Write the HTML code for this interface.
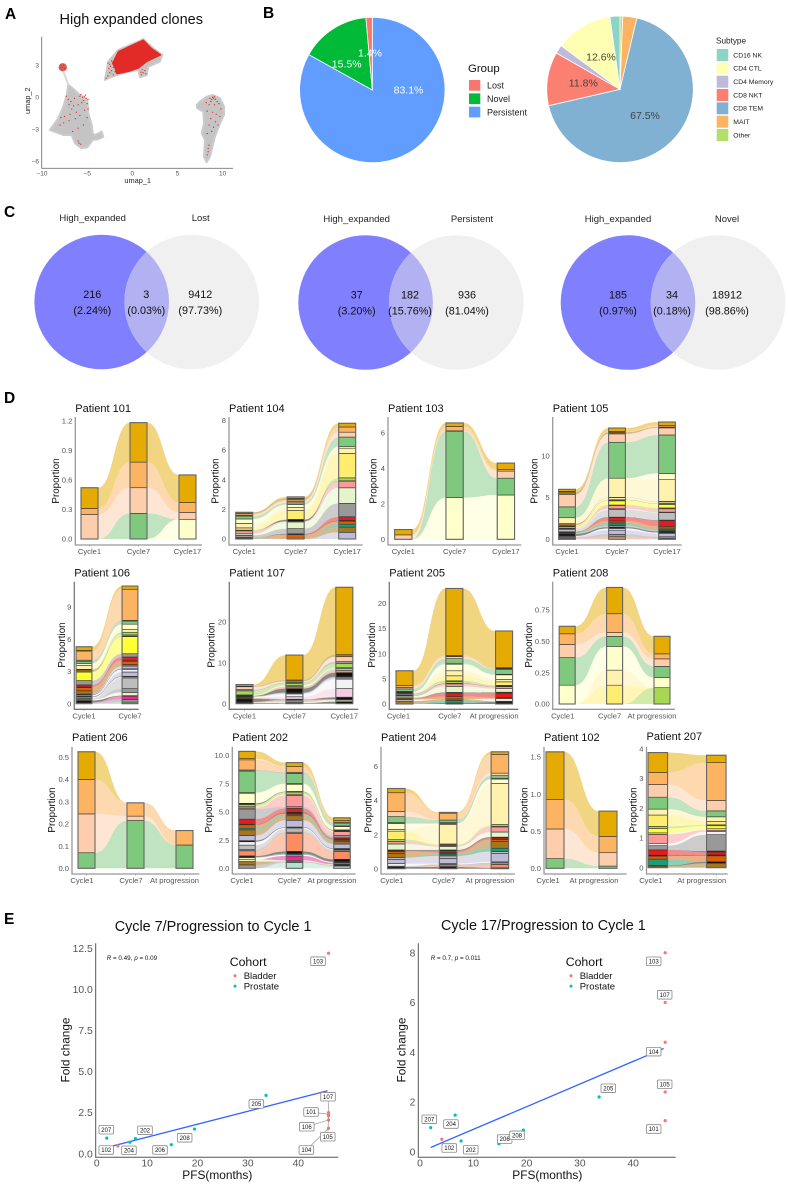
<!DOCTYPE html>
<html lang="en">
<head>
<meta charset="utf-8">
<title>High expanded clones figure</title>
<style>
html,body{margin:0;padding:0;background:#fff;width:788px;height:1185px;overflow:hidden}
svg{display:block;filter:blur(0.3px)}
text{font-family:"Liberation Sans",sans-serif}
.letter{font-size:15.5px;font-weight:bold;fill:#000}
.v{font-size:10.8px;fill:#111;text-anchor:middle}
.vh{font-size:9.5px;fill:#222;text-anchor:middle}
.leg{font-size:9px;fill:#222}
.leg2{font-size:6.8px;fill:#222}
.pl{font-size:10.5px;text-anchor:middle;dominant-baseline:central}
</style>
</head>
<body>
<svg id="fig" xmlns="http://www.w3.org/2000/svg" width="788" height="1185" viewBox="0 0 788 1185">
<rect x="0" y="0" width="788" height="1185" fill="#fff"/>
<defs>
<clipPath id="v1c"><circle cx="101.7" cy="302" r="67.3"/></clipPath>
<clipPath id="v2c"><circle cx="365.6" cy="302.5" r="67.3"/></clipPath>
<clipPath id="v3c"><circle cx="628" cy="302.5" r="67.3"/></clipPath>
</defs>
<text class="letter" x="5" y="19">A</text>
<text class="letter" x="263" y="18">B</text>
<text class="letter" x="4" y="217">C</text>
<text class="letter" x="4" y="403">D</text>
<text class="letter" x="4" y="924">E</text>
<text x="59.5" y="24" font-size="14.5" fill="#111">High expanded clones</text>
<g id="umap"></g>
<g id="pies"></g>
<g>
<text x="468" y="72" font-size="11.4" fill="#111">Group</text>
<rect x="469" y="80" width="11.3" height="10.7" fill="#F8766D"/>
<rect x="469" y="93.4" width="11.3" height="10.7" fill="#00BA38"/>
<rect x="469" y="106.7" width="11.3" height="10.7" fill="#619CFF"/>
<text class="leg" x="487" y="88.6">Lost</text>
<text class="leg" x="487" y="102">Novel</text>
<text class="leg" x="487" y="115.3">Persistent</text>
</g>
<g>
<text x="716" y="43.5" font-size="8.2" fill="#222">Subtype</text>
<rect x="716.7" y="49" width="11.6" height="12" fill="#8DD3C7"/>
<rect x="716.7" y="62.3" width="11.6" height="12" fill="#FFFFB3"/>
<rect x="716.7" y="75.7" width="11.6" height="12" fill="#BEBADA"/>
<rect x="716.7" y="89" width="11.6" height="12" fill="#FB8072"/>
<rect x="716.7" y="102.3" width="11.6" height="12" fill="#80B1D3"/>
<rect x="716.7" y="115.7" width="11.6" height="12" fill="#FDB462"/>
<rect x="716.7" y="129" width="11.6" height="12" fill="#B3DE69"/>
<text class="leg2" x="733.3" y="57.4">CD16 NK</text>
<text class="leg2" x="733.3" y="70.7">CD4 CTL</text>
<text class="leg2" x="733.3" y="84.1">CD4 Memory</text>
<text class="leg2" x="733.3" y="97.4">CD8 NKT</text>
<text class="leg2" x="733.3" y="110.7">CD8 TEM</text>
<text class="leg2" x="733.3" y="124.1">MAIT</text>
<text class="leg2" x="733.3" y="137.4">Other</text>
</g>
<g>
<circle cx="101.7" cy="302" r="67.3" fill="#8080FF"/>
<circle cx="191.7" cy="302" r="67.3" fill="#F0F0F0"/>
<circle cx="191.7" cy="302" r="67.3" fill="#B2B2F2" clip-path="url(#v1c)"/>
<text class="vh" x="92.7" y="221">High_expanded</text>
<text class="vh" x="200.7" y="221">Lost</text>
<text class="v" x="92.3" y="298">216</text>
<text class="v" x="92.3" y="314">(2.24%)</text>
<text class="v" x="146.3" y="298">3</text>
<text class="v" x="146.3" y="314">(0.03%)</text>
<text class="v" x="200.3" y="298">9412</text>
<text class="v" x="200.3" y="314">(97.73%)</text>
</g>
<g>
<circle cx="365.6" cy="302.5" r="67.3" fill="#8080FF"/>
<circle cx="456.3" cy="302.5" r="67.3" fill="#F0F0F0"/>
<circle cx="456.3" cy="302.5" r="67.3" fill="#B2B2F2" clip-path="url(#v2c)"/>
<text class="vh" x="356.7" y="222">High_expanded</text>
<text class="vh" x="472" y="222">Persistent</text>
<text class="v" x="356.7" y="298.5">37</text>
<text class="v" x="356.7" y="314.5">(3.20%)</text>
<text class="v" x="410" y="298.5">182</text>
<text class="v" x="410" y="314.5">(15.76%)</text>
<text class="v" x="467" y="298.5">936</text>
<text class="v" x="467" y="314.5">(81.04%)</text>
</g>
<g>
<circle cx="628" cy="302.5" r="67.3" fill="#8080FF"/>
<circle cx="718" cy="302.5" r="67.3" fill="#F0F0F0"/>
<circle cx="718" cy="302.5" r="67.3" fill="#B2B2F2" clip-path="url(#v3c)"/>
<text class="vh" x="618" y="222">High_expanded</text>
<text class="vh" x="727" y="222">Novel</text>
<text class="v" x="618" y="298.5">185</text>
<text class="v" x="618" y="314.5">(0.97%)</text>
<text class="v" x="672" y="298.5">34</text>
<text class="v" x="672" y="314.5">(0.18%)</text>
<text class="v" x="727" y="298.5">18912</text>
<text class="v" x="727" y="314.5">(98.86%)</text>
</g>
<g id="alluvials"></g>
<g id="scatters"></g>
</svg>
<script>
/* ---------- Panel A: UMAP values (umap units) ---------- */
const umapXTicks = ['−10', '−5', '0', '5', '10'];
const umapYTicks = ['−6', '−3', '0', '3'];
const umapGreyLeft = [[-7.09,1.16],[-6.72,.94],[-5.8,.22],[-4.98,-.25],[-4.87,-1.5],[-4.5,-2.59],[-4.39,-3.38],[-4.13,-3.53],[-3.4,-3.22],[-3.21,-3.69],[-3.77,-3.94],[-4.39,-4],[-4.98,-4.69],[-5.61,-4.78],[-6.35,-4.31],[-6.72,-3.53],[-7.64,-3.53],[-9.12,-3.06],[-8.19,-1.97],[-7.64,-.88],[-7.27,.22]];
const umapGreyTop = [[-3.03,1.63],[-2.66,3.34],[-1.55,4.44],[1.22,5.44],[2.33,4.59],[3.32,3.97],[3.06,3.34],[1.77,2.88],[1.59,2.09],[.85,1.88],[.66,2.56],[-.44,2.41],[-1.73,2.09],[-2.66,1.78]];
const umapGreyRight = [[7.12,-.72],[7.49,-.41],[8.23,.06],[8.97,.22],[9.71,-.09],[10.15,-.88],[10.15,-1.66],[9.71,-2.44],[9.15,-3.69],[8.6,-5.56],[8.23,-6.09],[7.94,-5.56],[8.05,-4],[7.68,-3.38],[7.94,-2.44],[7.86,-1.34],[7.2,-1.03]];
const umapRedTop = [[-1.92,2.72],[-2.2,3.2],[-1.9,3.7],[-1.55,4.3],[1.22,5.38],[2.14,4.59],[3.17,3.97],[1.59,3.34],[.66,2.72],[-.44,2.41],[-1.73,2.19]];
const umapRedDots = [[-7.1,-.2],[-6.8,-.4],[-6.4,-.1],[-5.8,.1],[-5.5,0],[-5.4,-.3],[-5.2,.2],[-5.6,-.5],[-5,-.6],[-6,-.7],[-6.5,-.8],[-7,-.7],[-4.9,-1.1],[-5.3,-1.2],[-6.2,-1.4],[-7.5,-1.8],[-7.9,-1.9],[-7,-2.2],[-6.3,-2],[-5.4,-2.6],[-6,-2.9],[-7.6,-2.4],[-5.9,-4.3],[-5.7,-4.4],[-6,-4.1],[-4.9,-.2],[-5.1,-.1],[-5.3,.05],[-5.7,.25],[-7.3,.1],[-6.7,-1.1],[-5.8,-1.7],[-6.9,-1.6],[-5,-1.9],[-8,-2.6],[-6.6,-3.2],
[8.6,-.1],[8.8,-.2],[9,-.1],[9.2,-.2],[8.9,0],[9.1,.05],[8.7,-.4],[9.4,-.4],[8.2,-.5],[8.5,-.7],[9.1,-.7],[9.6,-.6],[9.8,-1.1],[8.3,-1.3],[8.9,-1.4],[9.3,-1.6],[9.7,-1.8],[8.7,-2],[9.2,-2.3],[8.5,-2.6],[9,-2.8],[8.8,-3.2],[8.3,-3.4],[8.4,-4.8],[8.4,-5.1],[8.3,-5.4],[8.5,-4.5],[9.5,-2.6],
[-2.9,1.8],[-2.7,2],[-2.5,2.3],[-2.6,2.7],[-2.3,2.5],[-2.1,2.1],[-1.9,2.4],[-2.5,3.1],[-2.7,3.2],[-2.3,3.4],[-2.1,2.8],[-2.4,2.9],[1,2.1],[1.2,2.3],[1.4,2.5],[1.1,2.6],[1.5,2.2],[.95,2.35],[-7.9,3],[-7.7,2.8],[-7.5,2.7],[-8,2.8],[-7.8,2.6],[-7.6,3]];

/* ---------- Panel B: pie shares ---------- */
const groupLabels = ['Persistent', 'Novel', 'Lost'];
const groupShares = [83.1, 15.5, 1.4];
const subtypeLabels = ['Other', 'MAIT', 'CD8 TEM', 'CD8 NKT', 'CD4 Memory', 'CD4 CTL', 'CD16 NK'];
const subtypeShares = [.6, 3.1, 67.5, 11.8, 1.9, 12.6, 2.2];

/* ---------- Panel D: clone proportions, bottom-up, one value per timepoint ---------- */
const p101Cats = ['Cycle1', 'Cycle7', 'Cycle17'];
const p101Ticks = ['0.0', '0.3', '0.6', '0.9', '1.2'];
const p101Bands = [['E',0,0,.2],['D',0,.26,0],['C',.25,.26,.07],['B',.06,.26,.1],['A',.21,.4,.28]];

const p104Cats = ['Cycle1', 'Cycle7', 'Cycle17'];
const p104Ticks = ['0', '2', '4', '6', '8'];
const p104Bands = [['R',0,0,.45],['P',.05,0,.35],['Q',.05,0,.2],['O',0,.3,.2],['V',0,.05,.05],['N',0,0,.25],['L',.15,.35,.9],['K',.1,.45,1.05],['J',.2,.05,.45],['V',0,.1,.02],['I',.05,.02,.2],['G',.15,.6,1.65],['F',.3,.2,.35],['E',.3,.2,.1],['D',.2,.12,.65],['C',.05,.1,.33],['B',.1,.1,.35],['P',.1,.1,0],['A',0,.1,.25]];

const p103Cats = ['Cycle1', 'Cycle7', 'Cycle17'];
const p103Ticks = ['0', '2', '4', '6'];
const p103Bands = [['E',0,2.35,2.5],['D',0,3.75,.95],['C',.25,.02,.4],['B',0,.25,.1],['A',.3,.2,.35]];

const p105Cats = ['Cycle1', 'Cycle7', 'Cycle17'];
const p105Ticks = ['0', '5', '10'];
const p105Bands = [['S',.1,.3,.1],['L',.1,.3,.2],['R',.15,.5,.4],['Z',.05,.2,.1],['V',.25,.15,.15],['L',.1,.2,.1],['Q',.05,.2,.1],['P',.05,.2,.2],['O',0,.15,.2],['N',0,.4,.7],['V',.05,.05,.05],['M',.3,.9,.9],['K',.05,.1,.05],['J',.05,.4,.4],['I',.05,.05,.1],['H',.15,.5,.4],['G',.05,.1,.1],['V',.03,.03,.03],['F',.1,.25,.2],['P',.2,.03,.05],['F',.7,2.3,2.6],['E',0,0,.75],['D',1.3,4.3,4.6],['C',1.5,1,.85],['P',.3,.2,.1],['B',.05,.1,.2],['A',.25,.4,.4]];

const p106Cats = ['Cycle1', 'Cycle7'];
const p106Ticks = ['0', '3', '6', '9'];
const p106Bands = [['D',0,.15],['L',.1,.25],['T',0,.3],['V',.2,.05],['K',.1,.3],['L',0,.35],['M',.1,1],['Z',.1,.1],['V',.05,.05],['R',.05,.4],['Z',.1,.25],['V',.05,.05],['R',.05,.25],['P',.3,.15],['O',.3,.3],['Q',.05,.05],['N',.2,.35],['L',.4,.3],['H',.8,1.6],['P',.2,.05],['G',0,.1],['I',.05,.25],['F',.35,.25],['E',.2,.5],['D',.2,.3],['L',.1,.05],['B',.85,2.9],['P',.05,0],['A',.35,.3]];

const p107Cats = ['Cycle1', 'Cycle7', 'Cycle17'];
const p107Ticks = ['0', '10', '20'];
const p107Bands = [['V',.2,.15,.5],['K',.1,.2,.4],['S',.1,.35,.1],['L',.05,.3,.05],['V',.7,.05,.5],['P',.2,.05,.05],['X',.1,.6,2.1],['Z',.2,.7,2.3],['R',.05,.1,.3],['L',.1,.2,.3],['V',.1,1,1],['S',.1,.4,.5],['M',.05,.1,.5],['K',.1,.3,.2],['I',1,.5,1],['L',.3,.2,.5],['C',.7,.3,1.2],['P',.15,.3,.5],['A',.4,6.1,16.5]];

const p205Cats = ['Cycle1', 'Cycle7', 'At progression'];
const p205Ticks = ['0', '5', '10', '15', '20'];
const p205Bands = [['V',0,.2,.4],['Q',0,.5,.05],['P',.6,.3,.1],['Z',.3,0,.5],['O',.1,.5,.2],['N',0,.7,.9],['V',.05,.1,.1],['P',.2,0,.1],['K',.3,1.2,.7],['J',.1,.5,.4],['V',.05,.1,.05],['I',.1,.4,.1],['L',.3,.1,.1],['G',.1,1,.7],['F',.1,1,.5],['E',.1,1.3,.9],['M',.1,.2,.1],['D',.5,.9,1],['C',.3,.4,.1],['P',0,.05,.1],['B',.4,.2,.1],['A',2.9,13.3,7.3]];

const p208Cats = ['Cycle1', 'Cycle7', 'At progression'];
const p208Ticks = ['0.00', '0.25', '0.50', '0.75'];
const p208Bands = [['I',0,0,.13],['G',0,.15,0],['F',0,.12,0],['E',.15,.19,.08],['D',.22,.08,.09],['C',.105,.03,.06],['B',.085,.15,.04],['A',.06,.21,.14]];

const p206Cats = ['Cycle1', 'Cycle7', 'At progression'];
const p206Ticks = ['0.0', '0.1', '0.2', '0.3', '0.4', '0.5'];
const p206Bands = [['D',.07,.215,.105],['C',.175,.02,0],['B',.155,.06,.065],['A',.125,0,0]];

const p202Cats = ['Cycle1', 'Cycle7', 'At progression'];
const p202Ticks = ['0.0', '2.5', '5.0', '7.5', '10.0'];
const p202Bands = [['U',0,.5,.2],['L',.3,.1,.05],['P',.3,0,.05],['K',.2,.1,.05],['T',0,.4,.15],['E',.15,.1,.05],['Q',.05,.1,.05],['V',.1,.2,.2],['S',.45,1.6,.7],['L',.1,.1,.05],['M',.4,.3,.1],['Z',.3,.1,.05],['V',.1,.05,.05],['R',.45,.6,.4],['P',.5,.4,.2],['Q',.15,.1,.1],['O',.3,.1,.1],['V',.05,.1,.05],['N',.45,.35,.1],['L',.9,.15,.2],['J',.1,1,.35],['G',.1,.1,.05],['I',.2,.2,.05],['V',.1,.05,.05],['E',.85,.6,.3],['F',.1,.1,.05],['D',1.9,.9,.25],['L',.1,.1,.05],['B',.9,.5,.15],['C',.1,0,.02],['A',.65,.35,.25]];

const p204Cats = ['Cycle1', 'Cycle7', 'At progression'];
const p204Ticks = ['0', '2', '4', '6'];
const p204Bands = [['V',.1,.1,.05],['S',0,.05,.2],['L',.05,.1,.1],['Z',.15,.05,.05],['R',.25,.3,.5],['M',.1,.15,.1],['Q',0,.1,.2],['P',.25,.05,.4],['O',.1,.05,.1],['N',.05,.1,.1],['V',.05,.05,.05],['K',.35,.2,.3],['J',.15,.05,.3],['I',.1,.05,.05],['G',.5,.05,.1],['F',.1,1.15,2.4],['E',.35,.05,.25],['L',.05,.05,.05],['D',.35,.15,.15],['C',.3,0,.15],['B',1.1,.4,1.1],['A',.25,.05,.15]];

const p102Cats = ['Cycle1', 'At progression'];
const p102Ticks = ['0.0', '0.5', '1.0', '1.5'];
const p102Bands = [['D',.13,.03],['C',.4,.18],['B',.4,.22],['A',.64,.34]];

const p207Cats = ['Cycle1', 'At progression'];
const p207Ticks = ['0', '1', '2', '3', '4'];
const p207Bands = [['P',.05,.15],['V',.02,.05],['Q',.22,0],['O',.1,.2],['V',.03,.03],['N',.18,.1],['V',0,.03],['L',.14,.55],['Z',.08,.1],['J',.3,.05],['K',.05,.05],['H',.15,.1],['I',.07,.03],['G',.38,.12],['F',.2,.15],['D',.4,.2],['C',.43,.35],['B',.4,1.27],['A',.67,.25]];

/* ---------- Panel E: fold change vs PFS ---------- */
const patientIds = ['207','102','204','202','206','208','205','103','107','101','106','105','104'];
const patientPfs = [2,4.2,6.6,7.7,14.8,19.4,33.6,46,46,46,46,46,46];
const patientCohort = ['Prostate','Bladder','Prostate','Prostate','Prostate','Prostate','Prostate','Bladder','Bladder','Bladder','Bladder','Bladder','Bladder'];
const foldChangeC7 = [.95,.48,.7,.92,.55,1.5,3.55,12.2,2.5,2.4,2.05,2.3,1.55];
const fitC7Pfs = [3.3, 45.8];
const fitC7Fold = [.48, 3.83];
const c7XTicks = ['0','10','20','30','40'];
const c7YTicks = ['0.0','2.5','5.0','7.5','10.0','12.5'];

const idsC17 = ['207','102','204','202','206','208','205','103','107','104','105','101'];
const pfsC17 = [2,4.1,6.6,7.7,14.8,19.4,33.6,46,46,46,46,46];
const cohortC17 = ['Prostate','Bladder','Prostate','Prostate','Prostate','Prostate','Prostate','Bladder','Bladder','Bladder','Bladder','Bladder'];
const foldChangeC17 = [.97,.5,1.47,.43,.32,.87,2.2,8,6,4.4,2.4,1.25];
const fitC17Pfs = [2, 45.7];
const fitC17Fold = [.17, 4.15];
const c17XTicks = ['0','10','20','30','40'];
const c17YTicks = ['0','2','4','6','8'];

/* ---------- Style / layout ---------- */
const cloneColors = {A:'#E6AB02',B:'#FDB462',C:'#FDCDAC',D:'#7FC97F',E:'#FFFFCC',F:'#FFF2AE',G:'#FFED6F',H:'#FFFF33',I:'#A6D854',J:'#FB9A99',K:'#E6F5C9',L:'#999999',M:'#BDBDBD',N:'#E41A1C',O:'#D95F02',P:'#A6761D',Q:'#1B9E77',R:'#BEBADA',S:'#FC8D62',T:'#F0289A',U:'#B3E2CD',V:'#111111',X:'#F4CAE4',Z:'#F2F2F2'};
const groupColors = {Persistent:'#619CFF',Novel:'#00BA38',Lost:'#F8766D'};
const subtypeColors = {'Other':'#B3DE69','MAIT':'#FDB462','CD8 TEM':'#80B1D3','CD8 NKT':'#FB8072','CD4 Memory':'#BEBADA','CD4 CTL':'#FFFFB3','CD16 NK':'#8DD3C7'};
const cohortColors = {Bladder:'#F8766D',Prostate:'#00BFC4'};
const nudgeC7 = {'207':[-.5,-8.4],'102':[-11.6,4.2],'204':[-1,8.1],'202':[9.5,-8.3],'206':[-11.3,5.3],'208':[-9.8,8.7],'205':[-9.7,8.6],'103':[-10.5,8],'107':[-.5,-15.9],'101':[-17.5,-2.3],'106':[-21.8,6.7],'105':[-.8,20.8],'104':[-22.2,21.8]};
const nudgeC17 = {'207':[-1.4,-8.3],'204':[-4.2,8.9],'102':[7.4,8.7],'202':[9.7,8.7],'206':[5.8,-4.7],'208':[-6.4,5.3],'205':[9.2,-8.7],'103':[-11.5,8.6],'107':[-.5,-7.7],'104':[-11.5,9.4],'105':[-.5,-7.7],'101':[-11.5,8.4]};

const NS = 'http://www.w3.org/2000/svg';
function svgEl(tag, props, parent, txt){
  const e = document.createElementNS(NS, tag);
  for (const k in props) e.setAttribute(k, props[k]);
  if (txt !== undefined) e.textContent = txt;
  parent.appendChild(e);
  return e;
}

/* UMAP */
(function(){
  const root = document.getElementById('umap');
  const xS = v => 132.3 + 9.03 * v;
  const yS = v => 97.3 - 10.67 * v;
  const pts = a => a.map(p => xS(p[0]).toFixed(1) + ',' + yS(p[1]).toFixed(1)).join(' ');
  [umapGreyLeft, umapGreyTop, umapGreyRight].forEach(function(poly){
    const c = svgEl('polygon', {points: pts(poly), fill:'#C4C4C4', stroke:'#CBCBCB', 'stroke-width':2, 'stroke-linejoin':'round'}, root);
    
    
  });
  const tail = svgEl('polyline', {points: pts([[-7.64,2.41],[-7.3,1.7],[-7.09,1.16]]), fill:'none', stroke:'#DADADA', 'stroke-width':2}, root);
  
  
  const blob = svgEl('circle', {cx:xS(-7.7), cy:yS(2.81), r:4.2, fill:'#D7615C'}, root);
  
  
  const red = svgEl('polygon', {points: pts(umapRedTop), fill:'#E22B26', stroke:'#E22B26', 'stroke-width':1, 'stroke-linejoin':'round'}, root);
  
  
  umapRedDots.forEach(function(d){
    const c = svgEl('circle', {cx:xS(d[0]), cy:yS(d[1]), r:.65, fill:'#E22B26'}, root);
    
    
  });
  const ax = svgEl('path', {d:'M41.7 36.7V168.3H233', fill:'none', stroke:'#777', 'stroke-width':.9}, root);
  
  
  umapXTicks.forEach(function(t){
    const v = parseFloat(t.replace('−','-'));
    const l = svgEl('text', {x:xS(v), y:175.5, 'font-size':6.5, fill:'#555', 'text-anchor':'middle'}, root, t);
    
    
  });
  umapYTicks.forEach(function(t){
    const v = parseFloat(t.replace('−','-'));
    const l = svgEl('text', {x:39, y:yS(v)+2.3, 'font-size':6.5, fill:'#555', 'text-anchor':'end'}, root, t);
    
    
  });
  const xl = svgEl('text', {x:137.7, y:183, 'font-size':7.4, fill:'#222', 'text-anchor':'middle'}, root, 'umap_1');
  
  
  const yl = svgEl('text', {transform:'translate(29.8,100.7) rotate(-90)', 'font-size':7.4, fill:'#222', 'text-anchor':'middle'}, root, 'umap_2');
  
  
})();

/* Pies */
function drawPie(cx, cy, r, labels, shares, colors){
  const root = document.getElementById('pies');
  const total = shares.reduce((a,b)=>a+b,0);
  let acc = 0;
  labels.forEach(function(lab,i){
    const a0 = acc/total*2*Math.PI; acc += shares[i];
    const a1 = acc/total*2*Math.PI;
    const x0 = cx+r*Math.sin(a0), y0 = cy-r*Math.cos(a0), x1 = cx+r*Math.sin(a1), y1 = cy-r*Math.cos(a1);
    const d = 'M'+cx+' '+cy+'L'+x0.toFixed(2)+' '+y0.toFixed(2)+'A'+r+' '+r+' 0 '+((a1-a0)>Math.PI?1:0)+' 1 '+x1.toFixed(2)+' '+y1.toFixed(2)+'Z';
    const s = svgEl('path', {d:d, fill:colors[lab], stroke:'#fff', 'stroke-width':.8}, root);
    
    
  });
}
function pieLabel(x,y,t,c){
  const l = svgEl('text', {x:x, y:y, fill:c, class:'pl'}, document.getElementById('pies'), t);
  
  
}
drawPie(372.3, 90, 72.7, groupLabels, groupShares, groupColors);
drawPie(620, 89.3, 73.3, subtypeLabels, subtypeShares, subtypeColors);
pieLabel(408.5, 90.5, '83.1%', '#fff');
pieLabel(346.7, 64.5, '15.5%', '#fff');
pieLabel(370, 53.5, '1.4%', '#fff');
pieLabel(645, 116, '67.5%', '#444');
pieLabel(583.3, 83.5, '11.8%', '#444');
pieLabel(601, 57.5, '12.6%', '#444');

/* Alluvials */
function drawAlluvial(c){
  const root = svgEl('g', {}, document.getElementById('alluvials'));
  
  
  const y = v => c.y0 - v / c.ref * (c.y0 - c.yRef);
  const x = i => c.c0 + i * c.step;
  const n = c.cats.length;
  const stacks = [];
  for (let s = 0; s < n; s++){
    let acc = 0;
    stacks.push(c.bands.map(function(b){ const lo = acc; acc += b[s+1]; return [lo, acc]; }));
  }
  for (let s = 0; s < n-1; s++){
    c.bands.forEach(function(b, i){
      if (b[s+1] <= 0 && b[s+2] <= 0) return;
      const x1 = x(s) + c.bw/2, x2 = x(s+1) - c.bw/2, m = (x1+x2)/2;
      const a = stacks[s][i], e = stacks[s+1][i];
      const d = 'M'+x1+' '+y(a[1])+'C'+m+' '+y(a[1])+' '+m+' '+y(e[1])+' '+x2+' '+y(e[1])+'L'+x2+' '+y(e[0])+'C'+m+' '+y(e[0])+' '+m+' '+y(a[0])+' '+x1+' '+y(a[0])+'Z';
      const f = svgEl('path', {d:d, fill:cloneColors[b[0]], 'fill-opacity':.5}, root);
      
      
    });
  }
  for (let s = 0; s < n; s++){
    c.bands.forEach(function(b, i){
      if (b[s+1] <= 0) return;
      const st = stacks[s][i];
      const r = svgEl('rect', {x:x(s)-c.bw/2, y:y(st[1]), width:c.bw, height:y(st[0])-y(st[1]), fill:cloneColors[b[0]], stroke:'#333', 'stroke-width':.6}, root);
      
      
    });
    const top = stacks[s][c.bands.length-1][1];
    const o = svgEl('rect', {x:x(s)-c.bw/2, y:y(top), width:c.bw, height:y(0)-y(top), fill:'none', stroke:'#666', 'stroke-width':1.1}, root);
    
    
    const tk = svgEl('line', {x1:x(s), x2:x(s), y1:c.bottom, y2:c.bottom+1.5, stroke:'#888', 'stroke-width':.7}, root);
    
    
    const lb = svgEl('text', {x:x(s)+c.lx[s], y:c.bottom+9, 'font-size':7.6, fill:'#555', 'text-anchor':'middle'}, root, c.cats[s]);
    
    
  }
  const ax = svgEl('path', {d:'M'+c.left+' '+c.top+'V'+c.bottom+'H'+c.right, fill:'none', stroke:c.axisColor || '#999', 'stroke-width':1.3}, root);
  
  
  c.ticks.forEach(function(t){
    const v = parseFloat(t);
    const lb = svgEl('text', {x:c.left-3, y:y(v)+2.7, 'font-size':7.6, fill:'#555', 'text-anchor':'end'}, root, t);
    
    
  });
  const ti = svgEl('text', {x:c.left, y:c.titleY, 'font-size':11, fill:'#111'}, root, c.title);
  
  
  const yl = svgEl('text', {transform:'translate('+(c.yLabX+3.5)+','+c.yLabY+') rotate(-90)', 'font-size':9.8, fill:'#111', 'text-anchor':'middle'}, root, 'Proportion');
  
  
}
const row1 = {top:417, bottom:545, titleY:412, yLabY:481};
const row2 = {top:581.7, bottom:709.3, titleY:576.7, yLabY:645};
const row3 = {top:746.7, bottom:874, titleY:741, yLabY:810};
drawAlluvial(Object.assign({}, row1, {title:'Patient 101', cats:p101Cats, ticks:p101Ticks, bands:p101Bands, left:75.3, right:202, c0:89.5, step:49, bw:17, y0:539, yRef:420.7, ref:1.2, yLabX:55.7, lx:[0,0,0]}));
drawAlluvial(Object.assign({}, row1, {title:'Patient 104', cats:p104Cats, ticks:p104Ticks, bands:p104Bands, left:229, right:362.7, c0:244.2, step:51.5, bw:17, y0:539, yRef:420.3, ref:8, yLabX:215, lx:[0,0,0]}));
drawAlluvial(Object.assign({}, row1, {title:'Patient 103', cats:p103Cats, ticks:p103Ticks, bands:p103Bands, left:388, right:521.3, c0:403.3, step:51.3, bw:17.3, y0:539.3, yRef:433, ref:6, yLabX:373, lx:[0,0,0]}));
drawAlluvial(Object.assign({}, row1, {title:'Patient 105', cats:p105Cats, ticks:p105Ticks, bands:p105Bands, left:552.7, right:681.7, c0:567, step:50, bw:16.8, y0:539.3, yRef:455.7, ref:10, yLabX:534, lx:[0,0,0]}));
drawAlluvial(Object.assign({}, row2, {title:'Patient 106', cats:p106Cats, ticks:p106Ticks, bands:p106Bands, left:74.3, right:138.7, c0:84, step:46, bw:15.8, y0:703.7, yRef:607, ref:9, yLabX:61.3, lx:[0,0], axisColor:'#777'}));
drawAlluvial(Object.assign({}, row2, {title:'Patient 107', cats:p107Cats, ticks:p107Ticks, bands:p107Bands, left:229.3, right:358.3, c0:244.5, step:49.9, bw:17, y0:703.7, yRef:622, ref:20, yLabX:211, lx:[0,0,0], axisColor:'#777'}));
drawAlluvial(Object.assign({}, row2, {title:'Patient 205', cats:p205Cats, ticks:p205Ticks, bands:p205Bands, left:389.3, right:518.3, c0:404.5, step:49.8, bw:17, y0:704, yRef:603.3, ref:20, yLabX:371.7, lx:[-6,-4.5,-10], axisColor:'#777'}));
drawAlluvial(Object.assign({}, row2, {title:'Patient 208', cats:p208Cats, ticks:p208Ticks, bands:p208Bands, left:552.7, right:675, c0:567.2, step:47.4, bw:16, y0:704, yRef:610, ref:.75, yLabX:528.7, lx:[-4.5,-5,-10]}));
drawAlluvial(Object.assign({}, row3, {title:'Patient 206', cats:p206Cats, ticks:p206Ticks, bands:p206Bands, left:72, right:199.3, c0:86.5, step:49, bw:17, y0:868.3, yRef:757.3, ref:.5, yLabX:51.7, lx:[-4.5,-4.5,-10]}));
drawAlluvial(Object.assign({}, row3, {title:'Patient 202', cats:p202Cats, ticks:p202Ticks, bands:p202Bands, left:232.3, right:355.7, c0:247, step:47.5, bw:16.5, y0:868.3, yRef:755.3, ref:10, yLabX:208.7, lx:[-5,-5,-10]}));
drawAlluvial(Object.assign({}, row3, {title:'Patient 204', cats:p204Cats, ticks:p204Ticks, bands:p204Bands, left:381, right:515, c0:396.3, step:51.8, bw:17.5, y0:868.7, yRef:766.3, ref:6, yLabX:368, lx:[-4.5,-4.5,-10]}));
drawAlluvial(Object.assign({}, row3, {title:'Patient 102', cats:p102Cats, ticks:p102Ticks, bands:p102Bands, left:544, right:626.7, c0:555, step:53, bw:18, y0:868.3, yRef:757, ref:1.5, yLabX:524, lx:[-7,-14]}));
drawAlluvial(Object.assign({}, row3, {title:'Patient 207', cats:p207Cats, ticks:p207Ticks, bands:p207Bands, left:646.5, right:727.7, c0:657.8, step:58.5, bw:19.5, y0:867.7, yRef:748.7, ref:4, yLabX:633, lx:[-7,-14.6], titleY:740}));

/* Scatters */
function drawScatter(c){
  const root = svgEl('g', {}, document.getElementById('scatters'));
  
  
  const xS = v => c.x0 + c.xPer * v;
  const yS = v => c.y0 - c.yPer * v;
  const ti = svgEl('text', {x:c.titleX, y:c.titleY, 'font-size':14.4, fill:'#111'}, root, c.title);
  
  
  const ax = svgEl('path', {d:'M'+c.left+' 943.3V1157.3H'+c.right, fill:'none', stroke:'#555', 'stroke-width':1}, root);
  
  
  c.xTicks.forEach(function(t){
    const v = parseFloat(t);
    const l = svgEl('text', {x:xS(v), y:1166.7, 'font-size':10.3, fill:'#555', 'text-anchor':'middle'}, root, t);
    
    
  });
  c.yTicks.forEach(function(t){
    const v = parseFloat(t);
    const l = svgEl('text', {x:c.left-3, y:yS(v)+3.6, 'font-size':10.3, fill:'#555', 'text-anchor':'end'}, root, t);
    
    
  });
  const xl = svgEl('text', {x:c.xLabX, y:1179, 'font-size':11.9, fill:'#111', 'text-anchor':'middle'}, root, 'PFS(months)');
  
  
  const yl = svgEl('text', {transform:'translate('+(c.yLabX+4)+',1050) rotate(-90)', 'font-size':11.8, fill:'#111', 'text-anchor':'middle'}, root, 'Fold change');
  
  
  const an = svgEl('text', {x:c.annX, y:960, 'font-size':6.3, fill:'#111'}, root);
  
  
  svgEl('tspan', {'font-style':'italic'}, an, 'R');
  svgEl('tspan', {}, an, ' = ' + c.r + ', ');
  svgEl('tspan', {'font-style':'italic'}, an, 'p');
  svgEl('tspan', {}, an, ' = ' + c.p);
  const fit = svgEl('line', {x1:xS(c.fitX[0]), y1:yS(c.fitY[0]), x2:xS(c.fitX[1]), y2:yS(c.fitY[1]), stroke:'#3366FF', 'stroke-width':1.3}, root);
  
  
  c.ids.forEach(function(id, i){
    const px = xS(c.pfs[i]), py = yS(c.fold[i]);
    const nx = c.nudge[id][0], ny = c.nudge[id][1];
    if (Math.hypot(nx, ny) > 15) {
      const sg = svgEl('line', {x1:px, y1:py, x2:px+nx, y2:py+ny, stroke:'#888', 'stroke-width':.6}, root);
      
      
    }
    const pt = svgEl('circle', {cx:px, cy:py, r:1.6, fill:cohortColors[c.cohort[i]]}, root);
    
    
  });
  c.ids.forEach(function(id, i){
    const px = xS(c.pfs[i]) + c.nudge[id][0], py = yS(c.fold[i]) + c.nudge[id][1];
    const bx = svgEl('rect', {x:px-7.3, y:py-4.3, width:14.6, height:8.6, rx:1.2, fill:'#fff', stroke:'#888', 'stroke-width':.8}, root);
    
    
    const tx = svgEl('text', {x:px, y:py+2.2, 'font-size':6, fill:'#111', 'text-anchor':'middle'}, root, id);
    
    
  });
  const lt = svgEl('text', {x:c.legX, y:966, 'font-size':12.3, fill:'#111'}, root, 'Cohort');
  
  
  Object.keys(cohortColors).forEach(function(k, i){
    const yy = 975.7 + i * 10.4;
    const d = svgEl('circle', {cx:c.legX+5.3, cy:yy, r:1.5, fill:cohortColors[k]}, root);
    
    
    const l = svgEl('text', {x:c.legX+14, y:yy+3.3, 'font-size':9.5, fill:'#111'}, root, k);
    
    
  });
}
drawScatter({title:'Cycle 7/Progression to Cycle 1', titleX:114.7, titleY:931, left:95.7, right:338.3, x0:96.7, xPer:5.04, y0:1153.7, yPer:16.43, xTicks:c7XTicks, yTicks:c7YTicks, xLabX:217.3, yLabX:65.7, annX:106.7, r:'0.49', p:'0.09', fitX:fitC7Pfs, fitY:fitC7Fold, ids:patientIds, pfs:patientPfs, fold:foldChangeC7, cohort:patientCohort, nudge:nudgeC7, legX:229.7});
drawScatter({title:'Cycle 17/Progression to Cycle 1', titleX:441, titleY:930, left:418.3, right:675.7, x0:420, xPer:5.33, y0:1151.7, yPer:24.875, xTicks:c17XTicks, yTicks:c17YTicks, xLabX:547.3, yLabX:401.7, annX:430.7, r:'0.7', p:'0.011', fitX:fitC17Pfs, fitY:fitC17Fold, ids:idsC17, pfs:pfsC17, fold:foldChangeC17, cohort:cohortC17, nudge:nudgeC17, legX:565.7});
</script>
</body>
</html>
